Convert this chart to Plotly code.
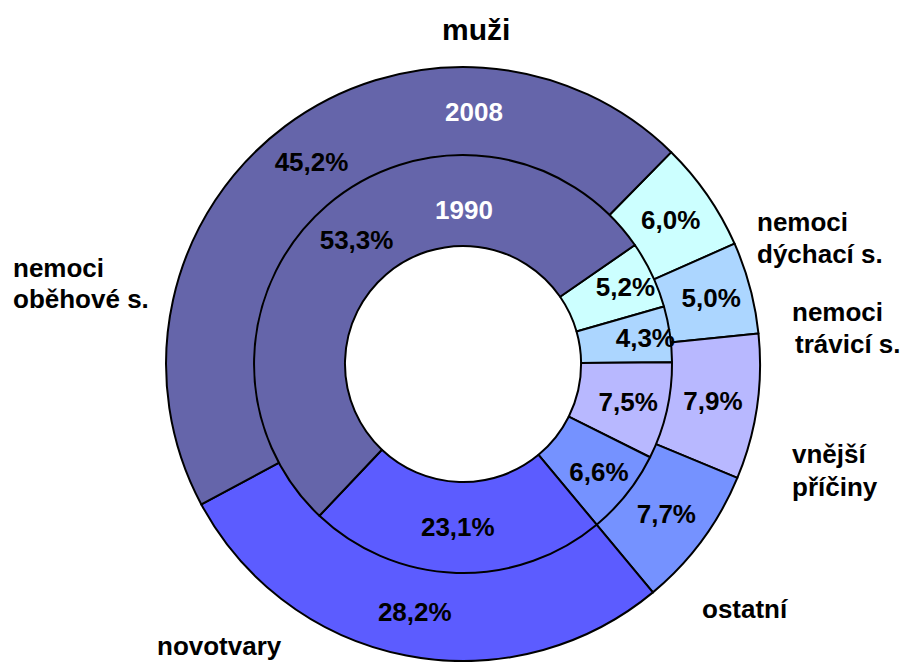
import plotly.graph_objects as go

categories = ["nemoci dýchací s.", "nemoci trávicí s.", "vnější příčiny",
              "ostatní", "novotvary", "nemoci oběhové s."]
values_2008 = [6.0, 5.0, 7.9, 7.7, 28.2, 45.2]
values_1990 = [5.2, 4.3, 7.5, 6.6, 23.1, 53.3]
colors = ["#ccffff", "#acd6ff", "#b8b8ff", "#7592ff", "#5c5cff", "#6565aa"]
year_outer = "2008"
year_inner = "1990"
title = "muži"

FONT = "Liberation Sans, Arial, sans-serif"
OFF = 8            # default page body margin
W, H = 900, 654    # figure size inside a 908x662 window

fig = go.Figure()
common = dict(
    labels=categories, sort=False, direction="clockwise",
    marker=dict(colors=colors, line=dict(color="black", width=2)),
    texttemplate="%{value:.1f}%", textposition="inside",
    insidetextorientation="horizontal",
    textfont=dict(family=FONT, size=26, color="black", weight="bold"),
    hoverinfo="label+value", showlegend=False,
)
fig.add_trace(go.Pie(values=values_2008, rotation=44.5, hole=0.701,
                     domain=dict(x=[0.1756, 0.8356], y=[0.0, 0.9113]), **common))
fig.add_trace(go.Pie(values=values_1990, rotation=55.3, hole=0.565,
                     domain=dict(x=[0.2556, 0.7556], y=[0.1361, 0.7752]), **common))

def px(x, y):
    return (x - OFF) / W, 1 - (y - OFF) / H

anns = [
    (title, 476, 30, 30, "black", "center"),
    (year_outer, 474, 112, 26, "white", "center"),
    (year_inner, 464, 210, 26, "white", "center"),
]
for t, x, y, s, c, a in anns:
    xx, yy = px(x, y)
    fig.add_annotation(text=t, x=xx, y=yy, xref="paper", yref="paper",
                       showarrow=False, xanchor=a, yanchor="middle",
                       font=dict(family=FONT, size=s, color=c, weight="bold"))

side_labels = [
    ("nemoci", 11, 268), ("oběhové s.", 11, 299),
    ("nemoci", 755, 222), ("dýchací s.", 755, 254),
    ("nemoci", 790, 312), ("trávicí s.", 793, 344),
    ("vnější", 790, 454), ("příčiny", 790, 487),
    ("ostatní", 700, 609),
    ("novotvary", 155, 646),
]
for t, x, y in side_labels:
    xx, yy = px(x, y)
    fig.add_annotation(text=t, x=xx, y=yy, xref="paper", yref="paper",
                       showarrow=False, xanchor="left", yanchor="middle",
                       font=dict(family=FONT, size=26, color="black", weight="bold"))

fig.update_layout(
    width=W, height=H, margin=dict(l=0, r=0, t=0, b=0),
    paper_bgcolor="white", plot_bgcolor="white",
    separators=", ",
    uniformtext=dict(minsize=26, mode="show"),
)
fig.write_html("out.html")
